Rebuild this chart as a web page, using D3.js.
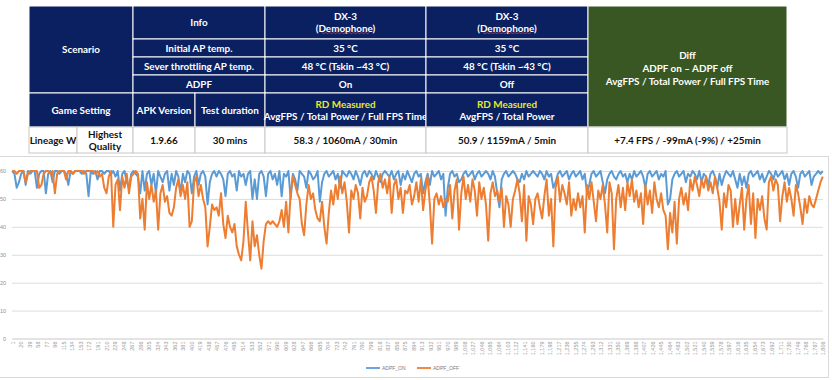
<!DOCTYPE html>
<html><head><meta charset="utf-8">
<script src="https://cdn.jsdelivr.net/npm/d3@7/dist/d3.min.js"></script>
<style>
html,body{margin:0;padding:0;background:#fff;}
svg{display:block;}
</style></head><body>
<svg id="c" width="832" height="380"></svg>
<script>
// ---------------- DATA ----------------
const seriesNames = ["ADPF_ON", "ADPF_OFF"];
const frameCount = 1806;          // number of frame categories on the x axis
const sampleStep = 5;             // frames between successive readings below
// FPS readings (one every 5 frames, frame 1 .. 1806)
const adpfOn = [
60,59,54,56,59,60,55,60,59,60,60,54,59,60,60,52,59,60,56,60,
60,59,60,60,59,55,60,59,60,60,60,59,60,59,51,60,59,60,57,60,
60,59,60,60,59,60,58,60,53,59,60,56,54,59,60,59,58,52,60,53,
59,60,55,59,52,60,58,56,59,60,53,59,55,60,58,52,59,56,60,59,
52,58,60,55,59,60,58,48,56,59,60,58,60,59,57,51,59,60,58,59,
53,60,58,59,55,59,60,50,57,50,59,60,58,51,59,60,57,59,55,60,
51,59,58,60,50,59,57,53,60,59,58,54,60,59,57,58,60,49,56,59,
60,58,59,60,57,59,54,60,59,58,60,59,57,60,58,55,59,60,58,60,
59,57,60,58,56,59,60,59,58,60,57,59,60,55,59,57,60,58,56,59,
60,58,59,52,56,59,55,60,58,59,60,57,59,44,54,59,60,58,59,56,
57,59,60,58,59,60,57,59,60,58,59,60,59,57,60,58,52,47,57,59,
60,58,59,60,59,57,56,59,57,60,58,59,60,59,58,60,59,57,60,58,
59,54,56,59,60,58,59,60,57,59,60,58,59,60,57,59,52,55,59,60,
58,59,60,56,52,57,59,60,58,57,59,60,58,59,56,59,57,60,58,59,
60,58,54,59,60,58,59,60,57,59,58,60,48,50,57,59,60,58,59,60,
56,59,58,60,59,57,60,56,59,58,55,59,60,58,54,59,55,58,60,59,
58,60,57,54,59,55,58,54,59,60,58,59,60,57,59,56,58,60,59,57,
60,58,59,60,57,59,55,59,60,58,54,59,60,58,59,60,55,58,59,60,59,60
];
const adpfOff = [
60,60,59,60,60,60,56,59,60,60,60,60,54,55,59,60,60,59,60,52,
59,60,60,60,57,60,60,59,60,60,60,60,59,60,60,60,60,59,60,58,
59,54,52,58,60,40,55,57,46,58,54,59,52,58,59,60,59,43,50,39,
56,50,55,49,53,39,52,55,49,51,45,44,47,54,57,51,55,50,56,40,
42,56,58,51,55,50,47,33,40,48,46,47,44,52,41,36,44,40,38,41,
33,30,28,35,49,38,28,42,33,37,30,25,35,41,42,41,42,41,40,42,
46,40,49,38,52,58,55,52,50,41,37,48,55,50,52,46,43,42,49,40,
34,45,53,48,55,50,58,52,56,49,38,53,50,55,52,43,54,49,51,56,
58,53,45,56,59,54,57,52,58,45,55,57,50,54,45,53,52,55,48,51,
56,49,57,46,53,58,48,34,50,52,48,51,47,50,49,55,43,53,57,39,
52,58,50,55,49,57,53,44,56,50,54,48,35,52,56,51,53,49,54,40,
51,48,40,50,53,57,52,42,55,35,51,48,41,50,52,47,43,51,57,44,
50,33,54,58,49,55,52,48,56,44,50,46,52,47,51,38,55,50,56,49,
42,53,50,55,48,38,56,52,32,50,55,47,54,46,56,51,57,49,53,47,
52,41,55,48,53,45,56,50,47,52,46,44,32,45,38,49,34,50,54,48,
52,46,57,53,58,55,51,57,54,58,53,56,52,58,54,49,39,52,47,55,
53,40,50,41,48,54,39,50,55,41,52,36,50,46,51,43,39,56,58,53,
57,55,42,51,56,49,54,50,44,55,52,47,41,50,45,51,48,47,50,53,56,58
];
const xTickLabels = [1,20,39,58,77,96,115,134,153,172,191,210,229,248,267,286,305,324,343,362,
381,400,419,438,457,476,495,514,533,552,571,590,609,628,647,666,685,704,723,742,761,780,799,818,
837,856,875,894,913,932,951,970,989,1008,1027,1046,1065,1084,1103,1122,1141,1160,1179,1198,1217,
1236,1255,1274,1293,1312,1331,1350,1369,1388,1407,1426,1445,1464,1483,1502,1521,1540,1559,1578,
1597,1616,1635,1654,1673,1692,1711,1730,1749,1768,1787,1806];
const yTicks = [0,10,20,30,40,50,60];

// Table contents: [colStart, colEnd, rowStart, rowEnd, kind, lines]  ("*" = yellow line)
const tableCells = [
 [0,2,0,4,"h",["Scenario"]],
 [2,4,0,1,"h",["Info"]],
 [4,5,0,1,"h",["DX-3","(Demophone)"]],
 [5,6,0,1,"h",["DX-3","(Demophone)"]],
 [2,4,1,2,"h",["Initial AP temp."]],
 [4,5,1,2,"h",["35 °C"]],
 [5,6,1,2,"h",["35 °C"]],
 [2,4,2,3,"h",["Sever throttling AP temp."]],
 [4,5,2,3,"h",["48 °C (Tskin ~43 °C)"]],
 [5,6,2,3,"h",["48 °C (Tskin ~43 °C)"]],
 [2,4,3,4,"h",["ADPF"]],
 [4,5,3,4,"h",["On"]],
 [5,6,3,4,"h",["Off"]],
 [0,2,4,5,"h",["Game Setting"]],
 [2,3,4,5,"h",["APK Version"]],
 [3,4,4,5,"h",["Test duration"]],
 [4,5,4,5,"h",["*RD Measured","AvgFPS / Total Power / Full FPS Time"]],
 [5,6,4,5,"h",["*RD Measured","AvgFPS / Total Power"]],
 [6,7,0,5,"g",["Diff","ADPF on \u2013 ADPF off","AvgFPS / Total Power / Full FPS Time"]],
 [0,1,5,6,"b",["Lineage W"]],
 [1,2,5,6,"b",["Highest","Quality"]],
 [2,3,5,6,"b",["1.9.66"]],
 [3,4,5,6,"b",["30 mins"]],
 [4,5,5,6,"b",["58.3 / 1060mA / 30min"]],
 [5,6,5,6,"b",["50.9 / 1159mA / 5min"]],
 [6,7,5,6,"b",["+7.4 FPS / -99mA (-9%) / +25min"]]
];

// ---------------- DRAW ----------------
const svg = d3.select("#c");
const NAVY = "#0a2060", GREEN = "#385723", YELLOW = "#e6ea2a";
const colX = [29, 77, 133, 195, 265, 426, 588, 787];
const rowY = [6, 39, 57, 75, 93, 127, 153];
const tfont = "Lato, 'Liberation Sans', sans-serif";

const tg = svg.append("g");
tableCells.forEach(([c0,c1,r0,r1,kind,lines]) => {
  const x0 = colX[c0], x1 = colX[c1], y0 = rowY[r0], y1 = rowY[r1];
  tg.append("rect").attr("x", x0).attr("y", y0).attr("width", x1 - x0).attr("height", y1 - y0)
    .attr("fill", kind === "h" ? NAVY : kind === "g" ? GREEN : "#fff")
    .attr("stroke", kind === "b" ? "#c8c8c8" : "#ffffff").attr("stroke-width", 1);
  const lh = kind === "g" ? 13 : 12;
  const cy = (y0 + y1) / 2 + (kind === "g" ? 1.5 : 0);
  const n = lines.length;
  lines.forEach((ln, i) => {
    const yellow = ln.startsWith("*");
    const txt = yellow ? ln.slice(1) : ln;
    tg.append("text")
      .attr("x", (x0 + x1) / 2)
      .attr("y", cy + (i - (n - 1) / 2) * lh + 3.5)
      .attr("text-anchor", "middle")
      .attr("font-family", tfont).attr("font-weight", 700).attr("font-size", 9.9)
      .attr("fill", kind === "b" ? "#111" : yellow ? YELLOW : "#fff")
      .text(txt);
    if (txt === "(Demophone)") {
      const cx = (x0 + x1) / 2;
      const pts = d3.range(0, 49, 2).map((d, k) => [cx - 24 + d, 32.8 + (k % 2 ? 0.8 : -0.2)]);
      tg.append("path").attr("d", d3.line()(pts)).attr("fill", "none")
        .attr("stroke", "#e04040").attr("stroke-width", 0.7);
    }
  });
});

// chart frame
svg.append("rect").attr("x", -1).attr("y", 156.5).attr("width", 829.5).attr("height", 221)
  .attr("fill", "none").attr("stroke", "#d9d9d9");

const x = d3.scaleLinear().domain([0.5, frameCount + 0.5]).range([12, 823]);
const y = d3.scaleLinear().domain([0, 60]).range([338.5, 171]);

const gy = svg.append("g").attr("transform", "translate(12,0)")
  .call(d3.axisLeft(y).tickValues(yTicks).tickSize(-811).tickPadding(6));
gy.select(".domain").remove();
gy.selectAll(".tick line").attr("stroke", "#dcdcdc");
gy.selectAll(".tick text").attr("fill", "#8f8f8f").attr("font-size", 5.5)
  .attr("font-family", "'Liberation Sans', Arial, sans-serif");

const gx = svg.append("g").attr("transform", "translate(0,338.5)")
  .call(d3.axisBottom(x).tickValues(xTickLabels).tickSize(0).tickPadding(0));
gx.select(".domain").attr("stroke", "#d9d9d9");
gx.selectAll(".tick text")
  .attr("transform", "rotate(-90)")
  .attr("text-anchor", "end")
  .attr("x", -3).attr("y", 0).attr("dy", "0.35em")
  .attr("fill", "#9a9a9a").attr("font-size", 5.5)
  .attr("font-family", "'Liberation Sans', Arial, sans-serif");

const colors = ["#5b9bd5", "#ed7d31"];
const series = [adpfOn, adpfOff];
const line = d3.line()
  .x((d, i) => x(1 + i * sampleStep))
  .y(d => y(d));
series.forEach((s, k) => {
  svg.append("path").datum(s).attr("d", line)
    .attr("fill", "none").attr("stroke", colors[k]).attr("stroke-width", 2)
    .attr("stroke-linejoin", "round");
});

// legend
const legX = [366, 417];
const leg = svg.append("g");
seriesNames.forEach((nm, k) => {
  leg.append("line").attr("x1", legX[k]).attr("x2", legX[k] + 14)
    .attr("y1", 368).attr("y2", 368).attr("stroke", colors[k]).attr("stroke-width", 1.8);
  leg.append("text").attr("x", legX[k] + 16).attr("y", 370)
    .attr("font-size", 5).attr("fill", "#7a7a7a")
    .attr("font-family", "'Liberation Sans', Arial, sans-serif")
    .text(nm);
});
</script>
</body></html>
